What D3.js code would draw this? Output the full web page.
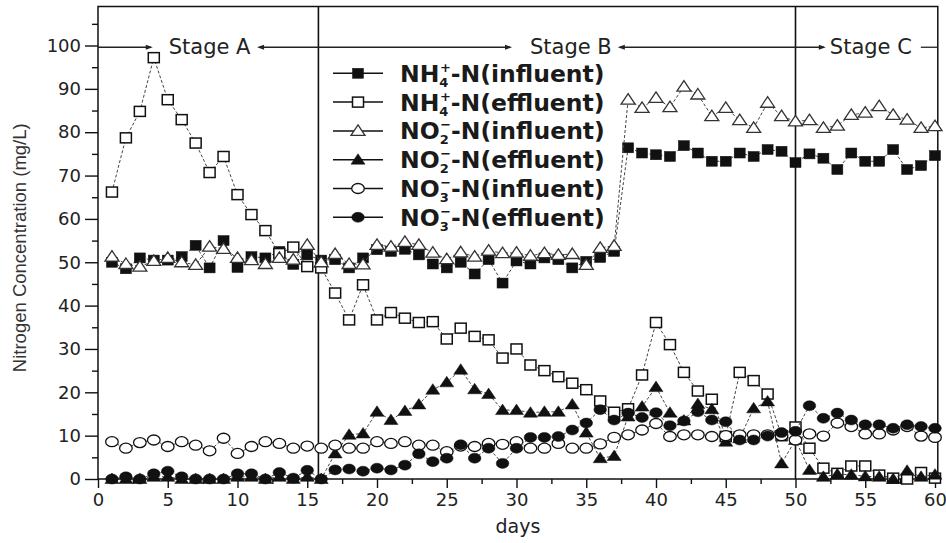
<!DOCTYPE html>
<html><head><meta charset="utf-8">
<script src="https://cdn.jsdelivr.net/npm/d3@7/dist/d3.min.js"></script>
<style>body{margin:0;background:#fff}svg{display:block}</style>
</head><body><svg id="c" width="946" height="543"></svg>
<script>
const days = [1,2,3,4,5,6,7,8,9,10,11,12,13,14,15,16,17,18,19,20,21,22,23,24,25,26,27,28,29,30,
  31,32,33,34,35,36,37,38,39,40,41,42,43,44,45,46,47,48,49,50,51,52,53,54,55,56,57,58,59,60];
const nh4Influent = [50,48.5,51,50.5,50.5,51.3,53.9,48.7,55,48.8,51.3,51,52.5,49.5,51.7,50.5,50.6,48.7,51,52.9,
  52.5,53,51.7,49.6,48.7,50,47.3,50.6,45.2,50.3,49.6,51,50.6,48.7,50.2,51.1,52.5,76.4,75.2,74.8,
  74.4,76.9,75.2,73.3,73.3,75.2,74.4,76,75.6,73,75,74,71.4,75.2,73.3,73.3,76,71.4,72.3,74.6];
const nh4Effluent = [66.2,78.7,84.8,97.2,87.5,82.9,77.5,70.7,74.4,65.6,61,57.3,52,53.5,49,48.7,42.9,36.7,44.8,36.7,
  38.4,37.1,36.1,36.3,32.3,34.8,32.9,32.1,27.9,30,26.3,25,23.6,22.1,20.6,18,15.4,16.2,24,36.1,
  31,24.6,20.3,18.4,9.8,24.6,22.7,19.6,10,12,7.1,2.5,1.3,3,3,0.9,0.2,0,1.5,0.2];
const no2Influent = [51.3,49.6,49,50.3,51,50,49.4,53.6,53.1,51,50.5,49.6,51,50.6,54,50,51.9,49.6,49.5,54,
  53.6,54.7,54,52.2,50.7,52.3,51.3,52.7,52.1,52.2,51.5,52.1,51.7,51.9,49.4,53.3,53.8,87.5,85.6,87.9,
  85.8,90.5,88.7,83.7,85.6,82.8,81,86.8,83.7,82.5,82.8,81,81.5,84,84.5,86,84,82.9,81,81.4];
const no2Effluent = [0,0,0,0.5,0.5,0,0,0,0,0.5,0.5,0,0.5,0,0.5,0,5.9,10.2,10.5,15.5,
  13.6,15.7,17.2,20.6,22.3,25.2,20.7,19.6,15.9,15.9,15.3,15.5,15.5,17.2,10.7,4.8,5.3,14.4,16.7,21.2,
  15.3,13.5,17.3,16.1,8.6,9.4,16.3,17.9,3.6,9,2.1,0.5,1.1,1,0.6,0.5,0,1.9,0.5,1];
const no3Influent = [8.6,7.1,8.4,9,7.5,8.6,7.8,6.5,9.4,5.9,7.5,8.6,8.2,7.1,7.6,7.1,7.8,7.1,7.1,8.6,
  8.2,8.6,7.8,7.8,6.3,7.6,7.5,8.2,8,8.6,7.1,7.1,8.2,7.1,7.1,8.1,9.6,10.2,11.3,12.8,
  9.8,10.2,10.2,9.8,10,10.2,10.2,10.2,10,9,10.4,9.9,12.9,12.1,10.4,10.4,11.3,12.1,9.9,9.6];
const no3Effluent = [0,0.5,0,1.2,1.8,0.5,0,0,0,1.2,1.2,0,1.5,0.2,2,0,2.1,2.3,1.8,2.5,
  2.1,3.2,5.8,4,4.8,7.9,4.8,7.1,3.6,7.1,9.6,9.6,9.8,11.3,12.9,16,13.6,15.2,14.2,15.3,
  12.3,13.4,15.5,13.6,13.2,9,9,9.9,10.7,11,16.9,14,15.2,13.6,12.5,12.5,11.7,12.5,12.1,11.7];

const xTicks = [0,5,10,15,20,25,30,35,40,45,50,55,60];
const xMinorTicks = [2.5,7.5,12.5,17.5,22.5,27.5,32.5,37.5,42.5,47.5,52.5,57.5];
const yTicks = [0,10,20,30,40,50,60,70,80,90,100];
const yMinorTicks = [5,15,25,35,45,55,65,75,85,95,105];
const stageNames = ["Stage A","Stage B","Stage C"];
const stageCenters = [8.0, 33.9, 55.4];
const stageBounds = [15.8, 50];
const stageLevel = 99.6;
const xLabel = "days";
const yLabel = "Nitrogen Concentration (mg/L)";
const legendLabels = [
  ["NH","4","+","-N(influent)"],
  ["NH","4","+","-N(effluent)"],
  ["NO","2","\u2212","-N(influent)"],
  ["NO","2","\u2212","-N(effluent)"],
  ["NO","3","\u2212","-N(influent)"],
  ["NO","3","\u2212","-N(effluent)"]
];

const seriesList = [
  {values: nh4Influent, shape: "square", filled: true},
  {values: nh4Effluent, shape: "square", filled: false},
  {values: no2Influent, shape: "triangle", filled: false},
  {values: no2Effluent, shape: "triangle", filled: true},
  {values: no3Influent, shape: "circle", filled: false},
  {values: no3Effluent, shape: "circle", filled: true}
];

const svg = d3.select("#c");
const x = d3.scaleLinear().domain([0, 60]).range([98, 935]);
const y = d3.scaleLinear().domain([0, 109]).range([479, 6.5]);
const xRight = x(60.2), yTop = y(109), yBottom = y(0), xLeft = x(0);
const FONT = "'DejaVu Sans', Verdana, sans-serif";

// axes
const gy = svg.append("g").attr("transform", `translate(${xLeft},0)`)
  .call(d3.axisLeft(y).tickValues(yTicks).tickSize(13).tickPadding(4).tickFormat(d3.format("d")));
const gyMinor = svg.append("g").attr("transform", `translate(${xLeft},0)`)
  .call(d3.axisLeft(y).tickValues(yMinorTicks).tickSize(6).tickFormat(""));
const gx = svg.append("g").attr("transform", `translate(0,${yBottom})`)
  .call(d3.axisBottom(x).tickValues(xTicks).tickSize(9).tickPadding(5.5).tickFormat(d3.format("d")));
const gxMinor = svg.append("g").attr("transform", `translate(0,${yBottom})`)
  .call(d3.axisBottom(x).tickValues(xMinorTicks).tickSize(5).tickFormat(""));
[gy, gyMinor, gx, gxMinor].forEach(g => {
  g.select(".domain").remove();
  g.selectAll("line").attr("stroke", "#111").attr("stroke-width", 1.4);
  g.selectAll("text").attr("font-family", FONT).attr("font-size", 18).attr("fill", "#222");
});

// frame
svg.append("rect").attr("x", xLeft).attr("y", yTop).attr("width", xRight - xLeft).attr("height", yBottom - yTop)
  .attr("fill", "none").attr("stroke", "#111").attr("stroke-width", 1.5);

// stage boundaries
svg.selectAll(".stageline").data(stageBounds).enter().append("line")
  .attr("x1", d => x(d)).attr("x2", d => x(d)).attr("y1", yTop).attr("y2", yBottom)
  .attr("stroke", "#111").attr("stroke-width", 1.6);

// stage labels
const yS = y(stageLevel);
const stageText = svg.selectAll(".stagetext").data(stageNames).enter().append("text")
  .attr("x", (d, i) => x(stageCenters[i])).attr("y", yS + 6.5)
  .attr("text-anchor", "middle").attr("font-family", FONT).attr("font-size", 21).attr("fill", "#222")
  .text(d => d);
const boxes = stageText.nodes().map(n => n.getBBox());
const segs = [
  [xLeft, boxes[0].x - 18, null, "r"],
  [boxes[0].x + boxes[0].width + 8, boxes[1].x - 20, "l", "r"],
  [boxes[1].x + boxes[1].width + 8, boxes[2].x - 6, "l", "r"],
  [boxes[2].x + boxes[2].width + 9, xRight, null, null]
];
segs.forEach(s => {
  svg.append("line").attr("x1", s[0]).attr("x2", s[1]).attr("y1", yS).attr("y2", yS)
    .attr("stroke", "#222").attr("stroke-width", 1.3);
  if (s[2] === "l") svg.append("path").attr("d", `M${s[0]-2},${yS} l7,-2.5 l0,5 z`).attr("fill", "#222");
  if (s[3] === "r") svg.append("path").attr("d", `M${s[1]+2},${yS} l-7,-2.5 l0,5 z`).attr("fill", "#222");
});

// markers
function drawMarker(g, shape, filled, cx, cy) {
  const fill = filled ? "#111" : "#fff";
  const stroke = "#111";
  if (shape === "square") {
    g.append("rect").attr("x", cx - 5.5).attr("y", cy - 5).attr("width", 11).attr("height", 10)
      .attr("fill", fill).attr("stroke", stroke).attr("stroke-width", filled ? 0.5 : 1.5);
  } else if (shape === "triangle") {
    g.append("path").attr("d", `M${cx},${cy - 6} L${cx + 7},${cy + 4.5} L${cx - 7},${cy + 4.5} Z`)
      .attr("fill", fill).attr("stroke", filled ? stroke : "#333").attr("stroke-width", filled ? 0.5 : 1.3);
  } else {
    g.append("ellipse").attr("cx", cx).attr("cy", cy).attr("rx", 6.3).attr("ry", 5)
      .attr("fill", fill).attr("stroke", stroke).attr("stroke-width", filled ? 0.5 : 1.3);
  }
}

const line = d3.line().x(d => x(d[0])).y(d => y(d[1]));
seriesList.forEach(s => {
  const pts = days.map((d, i) => [d, s.values[i]]);
  const g = svg.append("g");
  g.append("path").attr("d", line(pts)).attr("fill", "none")
    .attr("stroke", "#444").attr("stroke-width", 1).attr("stroke-dasharray", "3,2");
  pts.forEach(p => drawMarker(g, s.shape, s.filled, x(p[0]), y(p[1])));
});

// legend
const lg = svg.append("g");
legendLabels.forEach((lab, i) => {
  const cy = 73.3 + i * 28.8;
  lg.append("line").attr("x1", 333).attr("x2", 383).attr("y1", cy).attr("y2", cy)
    .attr("stroke", "#111").attr("stroke-width", 1.5);
  drawMarker(lg, seriesList[i].shape, seriesList[i].filled, 358, cy);
  const t = lg.append("text").attr("x", 400).attr("y", cy + 8.5)
    .attr("font-family", FONT).attr("font-weight", "bold").attr("font-size", 23.5).attr("fill", "#1a1a1a");
  t.append("tspan").text(lab[0]);
  t.append("tspan").attr("font-size", 13).attr("dy", 5).text(lab[1]);
  t.append("tspan").attr("font-size", 13).attr("dx", -8.5).attr("dy", -15).text(lab[2]);
  t.append("tspan").attr("dy", 10).text(lab[3]);
});

// axis titles
svg.append("text").attr("x", (xLeft + xRight) / 2).attr("y", 533)
  .attr("text-anchor", "middle").attr("font-family", FONT).attr("font-size", 19).attr("fill", "#222").text(xLabel);
svg.append("text").attr("transform", `translate(25.5,${(y(0) + y(109)) / 2 + 5}) rotate(-90)`)
  .attr("text-anchor", "middle").attr("font-family", "'Liberation Sans', Arial, sans-serif")
  .attr("font-size", 18.5).attr("fill", "#333").text(yLabel);
</script></body></html>
